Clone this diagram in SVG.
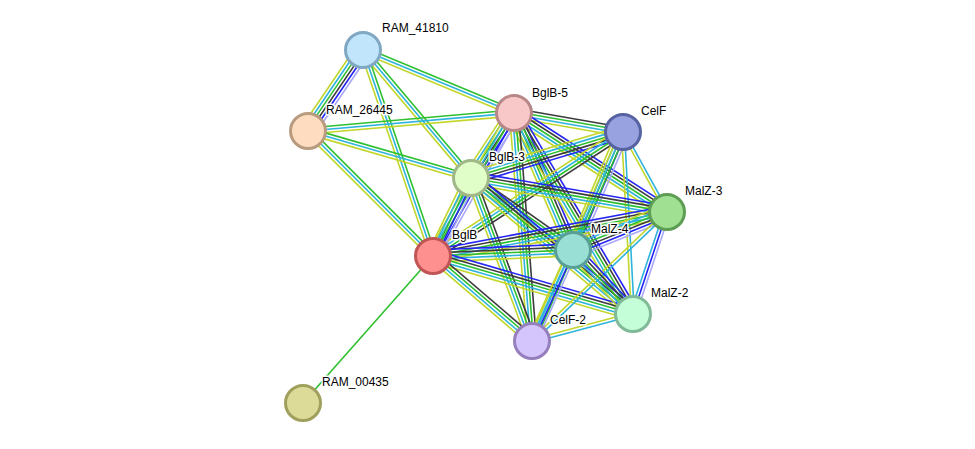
<svg xmlns="http://www.w3.org/2000/svg" width="975" height="449" viewBox="0 0 975 449">
<style>
line{stroke-width:1.6;fill:none;vector-effect:non-scaling-stroke}
.h{stroke:#a8a8f8}.b{stroke:#2424f5}.k{stroke:#3c3c3c}.g{stroke:#2ec02e}.c{stroke:#2db3dc}.y{stroke:#c2d62c}
circle{stroke-width:3}
text{font-family:"Liberation Sans",Arial,sans-serif;font-size:12px;fill:#000;stroke:#fff;stroke-width:3px;paint-order:stroke;stroke-linejoin:round}
</style>
<rect width="975" height="449" fill="#fff"/>
<g id="edges">
<g transform="translate(363,50) rotate(124.2) scale(1,1.2)"><line class="h" x2="97.9" y1="-6.25" y2="-6.25"/><line class="b" x2="97.9" y1="-3.75" y2="-3.75"/><line class="k" x2="97.9" y1="-1.25" y2="-1.25"/><line class="g" x2="97.9" y1="1.25" y2="1.25"/><line class="c" x2="97.9" y1="3.75" y2="3.75"/><line class="y" x2="97.9" y1="6.25" y2="6.25"/></g>
<g transform="translate(363,50) rotate(22.6) scale(1,1.2)"><line class="g" x2="163.6" y1="-2.5" y2="-2.5"/><line class="c" x2="163.6"/><line class="y" x2="163.6" y1="2.5" y2="2.5"/></g>
<g transform="translate(363,50) rotate(49.8) scale(1,1.2)"><line class="g" x2="167.5" y1="-2.5" y2="-2.5"/><line class="c" x2="167.5"/><line class="y" x2="167.5" y1="2.5" y2="2.5"/></g>
<g transform="translate(363,50) rotate(71.2) scale(1,1.2)"><line class="g" x2="217.6" y1="-2.5" y2="-2.5"/><line class="c" x2="217.6"/><line class="y" x2="217.6" y1="2.5" y2="2.5"/></g>
<g transform="translate(308,131) rotate(-5) scale(1,1.2)"><line class="g" x2="206.8" y1="-2.5" y2="-2.5"/><line class="c" x2="206.8"/><line class="y" x2="206.8" y1="2.5" y2="2.5"/></g>
<g transform="translate(308,131) rotate(16.1) scale(1,1.2)"><line class="g" x2="169.6" y1="-2.5" y2="-2.5"/><line class="c" x2="169.6"/><line class="y" x2="169.6" y1="2.5" y2="2.5"/></g>
<g transform="translate(308,131) rotate(45) scale(1,1.2)"><line class="g" x2="176.8" y1="-2.5" y2="-2.5"/><line class="c" x2="176.8"/><line class="y" x2="176.8" y1="2.5" y2="2.5"/></g>
<g transform="translate(514,113) rotate(123.5) scale(1,1.2)"><line class="h" x2="77.9" y1="-6.25" y2="-6.25"/><line class="b" x2="77.9" y1="-3.75" y2="-3.75"/><line class="k" x2="77.9" y1="-1.25" y2="-1.25"/><line class="g" x2="77.9" y1="1.25" y2="1.25"/><line class="c" x2="77.9" y1="3.75" y2="3.75"/><line class="y" x2="77.9" y1="6.25" y2="6.25"/></g>
<g transform="translate(514,113) rotate(119.5) scale(1,1.2)"><line class="h" x2="164.3" y1="-5" y2="-5"/><line class="b" x2="164.3" y1="-2.5" y2="-2.5"/><line class="g" x2="164.3"/><line class="c" x2="164.3" y1="2.5" y2="2.5"/><line class="y" x2="164.3" y1="5" y2="5"/></g>
<g transform="translate(514,113) rotate(9.9) scale(1,1.2)"><line class="k" x2="110.6" y1="-3.75" y2="-3.75"/><line class="g" x2="110.6" y1="-1.25" y2="-1.25"/><line class="c" x2="110.6" y1="1.25" y2="1.25"/><line class="y" x2="110.6" y1="3.75" y2="3.75"/></g>
<g transform="translate(514,113) rotate(32.9) scale(1,1.2)"><line class="b" x2="182.2" y1="-5" y2="-5"/><line class="k" x2="182.2" y1="-2.5" y2="-2.5"/><line class="g" x2="182.2"/><line class="c" x2="182.2" y1="2.5" y2="2.5"/><line class="y" x2="182.2" y1="5" y2="5"/></g>
<g transform="translate(514,113) rotate(66.7) scale(1,1.2)"><line class="b" x2="149.2" y1="-5" y2="-5"/><line class="k" x2="149.2" y1="-2.5" y2="-2.5"/><line class="g" x2="149.2"/><line class="c" x2="149.2" y1="2.5" y2="2.5"/><line class="y" x2="149.2" y1="5" y2="5"/></g>
<g transform="translate(514,113) rotate(59.4) scale(1,1.2)"><line class="b" x2="233.6" y1="-5" y2="-5"/><line class="k" x2="233.6" y1="-2.5" y2="-2.5"/><line class="g" x2="233.6"/><line class="c" x2="233.6" y1="2.5" y2="2.5"/><line class="y" x2="233.6" y1="5" y2="5"/></g>
<g transform="translate(514,113) rotate(85.5) scale(1,1.2)"><line class="k" x2="228.7" y1="-3.75" y2="-3.75"/><line class="g" x2="228.7" y1="-1.25" y2="-1.25"/><line class="c" x2="228.7" y1="1.25" y2="1.25"/><line class="y" x2="228.7" y1="3.75" y2="3.75"/></g>
<g transform="translate(623,132) rotate(163.2) scale(1,1.2)"><line class="b" x2="158.8" y1="-5" y2="-5"/><line class="k" x2="158.8" y1="-2.5" y2="-2.5"/><line class="g" x2="158.8"/><line class="c" x2="158.8" y1="2.5" y2="2.5"/><line class="y" x2="158.8" y1="5" y2="5"/></g>
<g transform="translate(623,132) rotate(146.9) scale(1,1.2)"><line class="k" x2="226.9" y1="-3.75" y2="-3.75"/><line class="g" x2="226.9" y1="-1.25" y2="-1.25"/><line class="c" x2="226.9" y1="1.25" y2="1.25"/><line class="y" x2="226.9" y1="3.75" y2="3.75"/></g>
<g transform="translate(623,132) rotate(61.2) scale(1,1.2)"><line class="c" x2="91.3" y1="-1.25" y2="-1.25"/><line class="y" x2="91.3" y1="1.25" y2="1.25"/></g>
<g transform="translate(623,132) rotate(113) scale(1,1.2)"><line class="h" x2="128.2" y1="-5" y2="-5"/><line class="b" x2="128.2" y1="-2.5" y2="-2.5"/><line class="g" x2="128.2"/><line class="c" x2="128.2" y1="2.5" y2="2.5"/><line class="y" x2="128.2" y1="5" y2="5"/></g>
<g transform="translate(623,132) rotate(86.9) scale(1,1.2)"><line class="c" x2="182.3" y1="-1.25" y2="-1.25"/><line class="y" x2="182.3" y1="1.25" y2="1.25"/></g>
<g transform="translate(623,132) rotate(113.5) scale(1,1.2)"><line class="g" x2="227.9" y1="-2.5" y2="-2.5"/><line class="c" x2="227.9"/><line class="y" x2="227.9" y1="2.5" y2="2.5"/></g>
<g transform="translate(471,178) rotate(9.8) scale(1,1.2)"><line class="b" x2="198.9" y1="-5" y2="-5"/><line class="k" x2="198.9" y1="-2.5" y2="-2.5"/><line class="g" x2="198.9"/><line class="c" x2="198.9" y1="2.5" y2="2.5"/><line class="y" x2="198.9" y1="5" y2="5"/></g>
<g transform="translate(471,178) rotate(116) scale(1,1.2)"><line class="h" x2="86.8" y1="-5" y2="-5"/><line class="b" x2="86.8" y1="-2.5" y2="-2.5"/><line class="g" x2="86.8"/><line class="c" x2="86.8" y1="2.5" y2="2.5"/><line class="y" x2="86.8" y1="5" y2="5"/></g>
<g transform="translate(471,178) rotate(35.2) scale(1,1.2)"><line class="k" x2="124.9" y1="-3.75" y2="-3.75"/><line class="g" x2="124.9" y1="-1.25" y2="-1.25"/><line class="c" x2="124.9" y1="1.25" y2="1.25"/><line class="y" x2="124.9" y1="3.75" y2="3.75"/></g>
<g transform="translate(471,178) rotate(40) scale(1,1.2)"><line class="b" x2="211.5" y1="-5" y2="-5"/><line class="k" x2="211.5" y1="-2.5" y2="-2.5"/><line class="g" x2="211.5"/><line class="c" x2="211.5" y1="2.5" y2="2.5"/><line class="y" x2="211.5" y1="5" y2="5"/></g>
<g transform="translate(471,178) rotate(69.5) scale(1,1.2)"><line class="k" x2="174" y1="-3.75" y2="-3.75"/><line class="g" x2="174" y1="-1.25" y2="-1.25"/><line class="c" x2="174" y1="1.25" y2="1.25"/><line class="y" x2="174" y1="3.75" y2="3.75"/></g>
<g transform="translate(433,256) rotate(-10.6) scale(1,1.2)"><line class="b" x2="238.1" y1="-5" y2="-5"/><line class="k" x2="238.1" y1="-2.5" y2="-2.5"/><line class="g" x2="238.1"/><line class="c" x2="238.1" y1="2.5" y2="2.5"/><line class="y" x2="238.1" y1="5" y2="5"/></g>
<g transform="translate(433,256) rotate(-2.5) scale(1,1.2)"><line class="b" x2="140.1" y1="-5" y2="-5"/><line class="k" x2="140.1" y1="-2.5" y2="-2.5"/><line class="g" x2="140.1"/><line class="c" x2="140.1" y1="2.5" y2="2.5"/><line class="y" x2="140.1" y1="5" y2="5"/></g>
<g transform="translate(433,256) rotate(16.2) scale(1,1.2)"><line class="b" x2="208.2" y1="-5" y2="-5"/><line class="k" x2="208.2" y1="-2.5" y2="-2.5"/><line class="g" x2="208.2"/><line class="c" x2="208.2" y1="2.5" y2="2.5"/><line class="y" x2="208.2" y1="5" y2="5"/></g>
<g transform="translate(433,256) rotate(40.6) scale(1,1.2)"><line class="k" x2="130.5" y1="-3.75" y2="-3.75"/><line class="g" x2="130.5" y1="-1.25" y2="-1.25"/><line class="c" x2="130.5" y1="1.25" y2="1.25"/><line class="y" x2="130.5" y1="3.75" y2="3.75"/></g>
<line class="g" x1="433" y1="256" x2="303" y2="403"/>
<g transform="translate(667,212) rotate(158) scale(1,1.2)"><line class="h" x2="101.4" y1="-6.25" y2="-6.25"/><line class="b" x2="101.4" y1="-3.75" y2="-3.75"/><line class="k" x2="101.4" y1="-1.25" y2="-1.25"/><line class="g" x2="101.4" y1="1.25" y2="1.25"/><line class="c" x2="101.4" y1="3.75" y2="3.75"/><line class="y" x2="101.4" y1="6.25" y2="6.25"/></g>
<g transform="translate(667,212) rotate(108.4) scale(1,1.2)"><line class="h" x2="107.5" y1="-2.5" y2="-2.5"/><line class="b" x2="107.5"/><line class="c" x2="107.5" y1="2.5" y2="2.5"/></g>
<g transform="translate(667,212) rotate(136.3) scale(1,1.2)"><line class="c" x2="186.7" y1="-1.25" y2="-1.25"/><line class="y" x2="186.7" y1="1.25" y2="1.25"/></g>
<g transform="translate(573,250) rotate(46.8) scale(1,1.2)"><line class="b" x2="87.7" y1="-5" y2="-5"/><line class="k" x2="87.7" y1="-2.5" y2="-2.5"/><line class="g" x2="87.7"/><line class="c" x2="87.7" y1="2.5" y2="2.5"/><line class="y" x2="87.7" y1="5" y2="5"/></g>
<g transform="translate(573,250) rotate(114.3) scale(1,1.2)"><line class="h" x2="99.8" y1="-3.75" y2="-3.75"/><line class="b" x2="99.8" y1="-1.25" y2="-1.25"/><line class="c" x2="99.8" y1="1.25" y2="1.25"/><line class="y" x2="99.8" y1="3.75" y2="3.75"/></g>
<g transform="translate(633,314) rotate(165) scale(1,1.2)"><line class="c" x2="104.5" y1="-1.25" y2="-1.25"/><line class="y" x2="104.5" y1="1.25" y2="1.25"/></g>
</g>
<g id="n-RAM_41810"><circle cx="363" cy="50" r="17.5" fill="#c1e6fb" stroke="#80a8c2"/><text x="382" y="32">RAM_41810</text></g>
<g id="n-RAM_26445"><circle cx="308" cy="131" r="17.5" fill="#fddcc0" stroke="#b99c80"/><text x="326" y="114">RAM_26445</text></g>
<g id="n-BglB-5"><circle cx="514" cy="113" r="17.5" fill="#f8c8c8" stroke="#b88888"/><text x="532" y="97">BglB-5</text></g>
<g id="n-CelF"><circle cx="623" cy="132" r="17.5" fill="#98a2e0" stroke="#5662a2"/><text x="641" y="115">CelF</text></g>
<g id="n-BglB-3"><circle cx="471" cy="178" r="17.5" fill="#e0fec8" stroke="#a0b888"/><text x="489" y="161">BglB-3</text></g>
<g id="n-MalZ-3"><circle cx="667" cy="212" r="17.5" fill="#9fe093" stroke="#5e9e54"/><text x="685" y="195">MalZ-3</text></g>
<g id="n-BglB"><circle cx="433" cy="256" r="17.5" fill="#fe9090" stroke="#bf5555"/><text x="452" y="239">BglB</text></g>
<g id="n-MalZ-4"><circle cx="573" cy="250" r="17.5" fill="#99dfd6" stroke="#5a9f96"/><text x="591" y="233">MalZ-4</text></g>
<g id="n-MalZ-2"><circle cx="633" cy="314" r="17.5" fill="#c4fed8" stroke="#80ba98"/><text x="651" y="297">MalZ-2</text></g>
<g id="n-CelF-2"><circle cx="532" cy="341" r="17.5" fill="#d4c5fd" stroke="#9580bd"/><text x="550" y="324">CelF-2</text></g>
<g id="n-RAM_00435"><circle cx="303" cy="403" r="17.5" fill="#dddb98" stroke="#a0a05e"/><text x="322" y="386">RAM_00435</text></g>
</svg>
